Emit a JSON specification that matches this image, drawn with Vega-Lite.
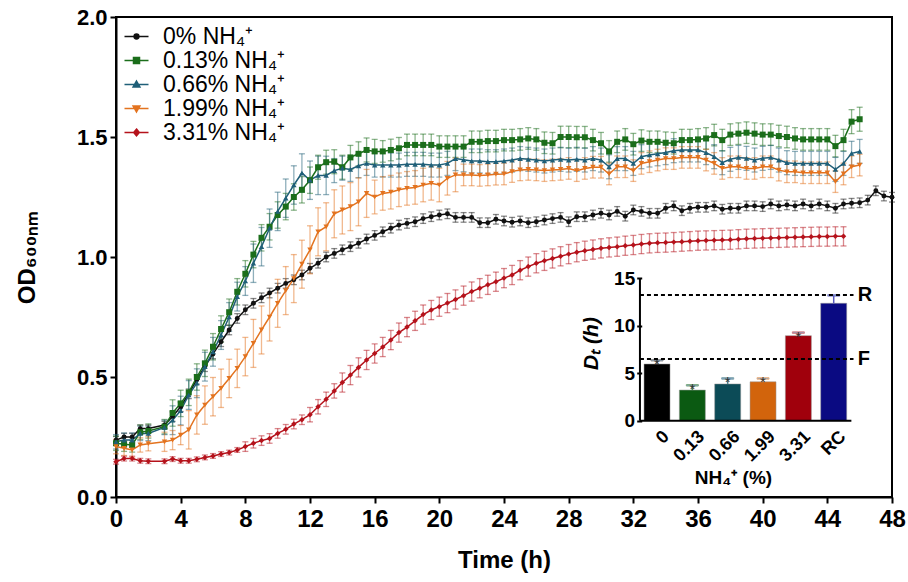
{
"$schema": "https://vega.github.io/schema/vega-lite/v6.json",
"width": 776, "height": 480,
"autosize": {"type": "none"},
"padding": {"left": 116, "top": 17, "right": 16, "bottom": 85},
"config": {"font": "Liberation Sans", "view": {"stroke": "black", "strokeWidth": 2}, "axis": {"grid": false}},
"datasets": {
"curves": [
{"t":0,"g":"0","y":0.237,"e":0.015},{"t":0.5,"g":"0","y":0.25,"e":0.015},{"t":1,"g":"0","y":0.25,"e":0.015},{"t":1.5,"g":"0","y":0.285,"e":0.015},{"t":2,"g":"0","y":0.285,"e":0.015},{"t":3,"g":"0","y":0.30,"e":0.015},{"t":3.5,"g":"0","y":0.335,"e":0.02},{"t":4,"g":"0","y":0.376,"e":0.02},{"t":4.5,"g":"0","y":0.43,"e":0.02},{"t":5,"g":"0","y":0.49,"e":0.02},{"t":5.5,"g":"0","y":0.543,"e":0.02},{"t":6,"g":"0","y":0.596,"e":0.02},{"t":6.5,"g":"0","y":0.647,"e":0.02},{"t":7,"g":"0","y":0.696,"e":0.02},{"t":7.5,"g":"0","y":0.744,"e":0.02},{"t":8,"g":"0","y":0.78,"e":0.02},{"t":8.5,"g":"0","y":0.807,"e":0.02},{"t":9,"g":"0","y":0.83,"e":0.02},{"t":9.5,"g":"0","y":0.85,"e":0.02},{"t":10,"g":"0","y":0.87,"e":0.02},{"t":10.5,"g":"0","y":0.89,"e":0.02},{"t":11,"g":"0","y":0.905,"e":0.02},{"t":11.5,"g":"0","y":0.925,"e":0.02},{"t":12,"g":"0","y":0.953,"e":0.02},{"t":12.5,"g":"0","y":0.974,"e":0.02},{"t":13,"g":"0","y":1.0,"e":0.02},{"t":13.5,"g":"0","y":1.015,"e":0.02},{"t":14,"g":"0","y":1.03,"e":0.02},{"t":14.5,"g":"0","y":1.043,"e":0.02},{"t":15,"g":"0","y":1.057,"e":0.02},{"t":15.5,"g":"0","y":1.075,"e":0.02},{"t":16,"g":"0","y":1.09,"e":0.02},{"t":16.5,"g":"0","y":1.105,"e":0.02},{"t":17,"g":"0","y":1.12,"e":0.02},{"t":17.5,"g":"0","y":1.133,"e":0.02},{"t":18,"g":"0","y":1.14,"e":0.02},{"t":18.5,"g":"0","y":1.147,"e":0.02},{"t":19,"g":"0","y":1.16,"e":0.02},{"t":19.5,"g":"0","y":1.168,"e":0.02},{"t":20,"g":"0","y":1.175,"e":0.02},{"t":20.5,"g":"0","y":1.18,"e":0.02},{"t":21,"g":"0","y":1.165,"e":0.02},{"t":21.5,"g":"0","y":1.165,"e":0.02},{"t":22,"g":"0","y":1.165,"e":0.02},{"t":22.5,"g":"0","y":1.143,"e":0.02},{"t":23,"g":"0","y":1.143,"e":0.02},{"t":23.5,"g":"0","y":1.157,"e":0.02},{"t":24,"g":"0","y":1.15,"e":0.02},{"t":24.5,"g":"0","y":1.145,"e":0.02},{"t":25,"g":"0","y":1.15,"e":0.02},{"t":25.5,"g":"0","y":1.143,"e":0.02},{"t":26,"g":"0","y":1.147,"e":0.02},{"t":26.5,"g":"0","y":1.154,"e":0.02},{"t":27,"g":"0","y":1.16,"e":0.02},{"t":27.5,"g":"0","y":1.165,"e":0.02},{"t":28,"g":"0","y":1.147,"e":0.02},{"t":28.5,"g":"0","y":1.168,"e":0.02},{"t":29,"g":"0","y":1.168,"e":0.02},{"t":29.5,"g":"0","y":1.175,"e":0.02},{"t":30,"g":"0","y":1.182,"e":0.02},{"t":30.5,"g":"0","y":1.175,"e":0.02},{"t":31,"g":"0","y":1.19,"e":0.02},{"t":31.5,"g":"0","y":1.17,"e":0.02},{"t":32,"g":"0","y":1.196,"e":0.02},{"t":32.5,"g":"0","y":1.19,"e":0.02},{"t":33,"g":"0","y":1.182,"e":0.02},{"t":33.5,"g":"0","y":1.182,"e":0.02},{"t":34,"g":"0","y":1.203,"e":0.02},{"t":34.5,"g":"0","y":1.213,"e":0.02},{"t":35,"g":"0","y":1.193,"e":0.02},{"t":35.5,"g":"0","y":1.203,"e":0.02},{"t":36,"g":"0","y":1.207,"e":0.02},{"t":36.5,"g":"0","y":1.207,"e":0.02},{"t":37,"g":"0","y":1.213,"e":0.02},{"t":37.5,"g":"0","y":1.199,"e":0.02},{"t":38,"g":"0","y":1.203,"e":0.02},{"t":38.5,"g":"0","y":1.203,"e":0.02},{"t":39,"g":"0","y":1.213,"e":0.02},{"t":39.5,"g":"0","y":1.213,"e":0.02},{"t":40,"g":"0","y":1.21,"e":0.02},{"t":40.5,"g":"0","y":1.221,"e":0.02},{"t":41,"g":"0","y":1.213,"e":0.02},{"t":41.5,"g":"0","y":1.217,"e":0.02},{"t":42,"g":"0","y":1.213,"e":0.02},{"t":42.5,"g":"0","y":1.221,"e":0.02},{"t":43,"g":"0","y":1.213,"e":0.02},{"t":43.5,"g":"0","y":1.221,"e":0.02},{"t":44,"g":"0","y":1.213,"e":0.02},{"t":44.5,"g":"0","y":1.203,"e":0.02},{"t":45,"g":"0","y":1.221,"e":0.02},{"t":45.5,"g":"0","y":1.224,"e":0.02},{"t":46,"g":"0","y":1.226,"e":0.02},{"t":46.5,"g":"0","y":1.237,"e":0.02},{"t":47,"g":"0","y":1.276,"e":0.02},{"t":47.5,"g":"0","y":1.254,"e":0.02},{"t":48,"g":"0","y":1.249,"e":0.02},
{"t":0,"g":"0.13","y":0.224,"e":0.03},{"t":0.5,"g":"0.13","y":0.22,"e":0.03},{"t":1,"g":"0.13","y":0.217,"e":0.03},{"t":1.5,"g":"0.13","y":0.27,"e":0.03},{"t":2,"g":"0.13","y":0.275,"e":0.03},{"t":3,"g":"0.13","y":0.293,"e":0.03},{"t":3.5,"g":"0.13","y":0.35,"e":0.055},{"t":4,"g":"0.13","y":0.39,"e":0.055},{"t":4.5,"g":"0.13","y":0.436,"e":0.055},{"t":5,"g":"0.13","y":0.50,"e":0.055},{"t":5.5,"g":"0.13","y":0.557,"e":0.055},{"t":6,"g":"0.13","y":0.626,"e":0.055},{"t":6.5,"g":"0.13","y":0.70,"e":0.055},{"t":7,"g":"0.13","y":0.77,"e":0.055},{"t":7.5,"g":"0.13","y":0.855,"e":0.055},{"t":8,"g":"0.13","y":0.93,"e":0.055},{"t":8.5,"g":"0.13","y":1.01,"e":0.055},{"t":9,"g":"0.13","y":1.08,"e":0.055},{"t":9.5,"g":"0.13","y":1.126,"e":0.055},{"t":10,"g":"0.13","y":1.175,"e":0.055},{"t":10.5,"g":"0.13","y":1.21,"e":0.055},{"t":11,"g":"0.13","y":1.25,"e":0.055},{"t":11.5,"g":"0.13","y":1.28,"e":0.055},{"t":12,"g":"0.13","y":1.32,"e":0.055},{"t":12.5,"g":"0.13","y":1.374,"e":0.05},{"t":13,"g":"0.13","y":1.395,"e":0.05},{"t":13.5,"g":"0.13","y":1.397,"e":0.05},{"t":14,"g":"0.13","y":1.374,"e":0.05},{"t":14.5,"g":"0.13","y":1.415,"e":0.05},{"t":15,"g":"0.13","y":1.43,"e":0.05},{"t":15.5,"g":"0.13","y":1.446,"e":0.05},{"t":16,"g":"0.13","y":1.44,"e":0.05},{"t":16.5,"g":"0.13","y":1.44,"e":0.045},{"t":17,"g":"0.13","y":1.446,"e":0.045},{"t":17.5,"g":"0.13","y":1.453,"e":0.045},{"t":18,"g":"0.13","y":1.467,"e":0.045},{"t":18.5,"g":"0.13","y":1.467,"e":0.045},{"t":19,"g":"0.13","y":1.467,"e":0.045},{"t":19.5,"g":"0.13","y":1.467,"e":0.045},{"t":20,"g":"0.13","y":1.46,"e":0.045},{"t":20.5,"g":"0.13","y":1.46,"e":0.045},{"t":21,"g":"0.13","y":1.46,"e":0.045},{"t":21.5,"g":"0.13","y":1.46,"e":0.045},{"t":22,"g":"0.13","y":1.48,"e":0.045},{"t":22.5,"g":"0.13","y":1.48,"e":0.045},{"t":23,"g":"0.13","y":1.483,"e":0.045},{"t":23.5,"g":"0.13","y":1.483,"e":0.045},{"t":24,"g":"0.13","y":1.487,"e":0.045},{"t":24.5,"g":"0.13","y":1.487,"e":0.045},{"t":25,"g":"0.13","y":1.49,"e":0.045},{"t":25.5,"g":"0.13","y":1.494,"e":0.045},{"t":26,"g":"0.13","y":1.49,"e":0.045},{"t":26.5,"g":"0.13","y":1.476,"e":0.045},{"t":27,"g":"0.13","y":1.474,"e":0.045},{"t":27.5,"g":"0.13","y":1.5,"e":0.045},{"t":28,"g":"0.13","y":1.5,"e":0.045},{"t":28.5,"g":"0.13","y":1.499,"e":0.045},{"t":29,"g":"0.13","y":1.499,"e":0.045},{"t":29.5,"g":"0.13","y":1.487,"e":0.045},{"t":30,"g":"0.13","y":1.474,"e":0.045},{"t":30.5,"g":"0.13","y":1.44,"e":0.045},{"t":31,"g":"0.13","y":1.48,"e":0.045},{"t":31.5,"g":"0.13","y":1.49,"e":0.045},{"t":32,"g":"0.13","y":1.47,"e":0.045},{"t":32.5,"g":"0.13","y":1.485,"e":0.045},{"t":33,"g":"0.13","y":1.48,"e":0.045},{"t":33.5,"g":"0.13","y":1.48,"e":0.045},{"t":34,"g":"0.13","y":1.476,"e":0.045},{"t":34.5,"g":"0.13","y":1.474,"e":0.045},{"t":35,"g":"0.13","y":1.487,"e":0.045},{"t":35.5,"g":"0.13","y":1.487,"e":0.045},{"t":36,"g":"0.13","y":1.49,"e":0.045},{"t":36.5,"g":"0.13","y":1.494,"e":0.045},{"t":37,"g":"0.13","y":1.508,"e":0.045},{"t":37.5,"g":"0.13","y":1.487,"e":0.045},{"t":38,"g":"0.13","y":1.51,"e":0.045},{"t":38.5,"g":"0.13","y":1.514,"e":0.045},{"t":39,"g":"0.13","y":1.518,"e":0.045},{"t":39.5,"g":"0.13","y":1.514,"e":0.045},{"t":40,"g":"0.13","y":1.51,"e":0.045},{"t":40.5,"g":"0.13","y":1.51,"e":0.045},{"t":41,"g":"0.13","y":1.504,"e":0.045},{"t":41.5,"g":"0.13","y":1.5,"e":0.045},{"t":42,"g":"0.13","y":1.494,"e":0.045},{"t":42.5,"g":"0.13","y":1.49,"e":0.045},{"t":43,"g":"0.13","y":1.49,"e":0.045},{"t":43.5,"g":"0.13","y":1.49,"e":0.045},{"t":44,"g":"0.13","y":1.49,"e":0.045},{"t":44.5,"g":"0.13","y":1.462,"e":0.045},{"t":45,"g":"0.13","y":1.487,"e":0.045},{"t":45.5,"g":"0.13","y":1.564,"e":0.05},{"t":46,"g":"0.13","y":1.574,"e":0.05},
{"t":0,"g":"0.66","y":0.23,"e":0.03},{"t":0.5,"g":"0.66","y":0.237,"e":0.03},{"t":1,"g":"0.66","y":0.237,"e":0.03},{"t":1.5,"g":"0.66","y":0.265,"e":0.03},{"t":2,"g":"0.66","y":0.265,"e":0.03},{"t":3,"g":"0.66","y":0.29,"e":0.03},{"t":3.5,"g":"0.66","y":0.32,"e":0.06},{"t":4,"g":"0.66","y":0.36,"e":0.06},{"t":4.5,"g":"0.66","y":0.425,"e":0.06},{"t":5,"g":"0.66","y":0.474,"e":0.06},{"t":5.5,"g":"0.66","y":0.543,"e":0.06},{"t":6,"g":"0.66","y":0.605,"e":0.06},{"t":6.5,"g":"0.66","y":0.675,"e":0.06},{"t":7,"g":"0.66","y":0.75,"e":0.06},{"t":7.5,"g":"0.66","y":0.835,"e":0.06},{"t":8,"g":"0.66","y":0.90,"e":0.06},{"t":8.5,"g":"0.66","y":0.974,"e":0.08},{"t":9,"g":"0.66","y":1.043,"e":0.08},{"t":9.5,"g":"0.66","y":1.12,"e":0.08},{"t":10,"g":"0.66","y":1.19,"e":0.08},{"t":10.5,"g":"0.66","y":1.245,"e":0.08},{"t":11,"g":"0.66","y":1.30,"e":0.08},{"t":11.5,"g":"0.66","y":1.35,"e":0.08},{"t":12,"g":"0.66","y":1.32,"e":0.08},{"t":12.5,"g":"0.66","y":1.34,"e":0.08},{"t":13,"g":"0.66","y":1.34,"e":0.08},{"t":13.5,"g":"0.66","y":1.36,"e":0.05},{"t":14,"g":"0.66","y":1.37,"e":0.05},{"t":14.5,"g":"0.66","y":1.365,"e":0.05},{"t":15,"g":"0.66","y":1.38,"e":0.05},{"t":15.5,"g":"0.66","y":1.39,"e":0.05},{"t":16,"g":"0.66","y":1.383,"e":0.05},{"t":16.5,"g":"0.66","y":1.383,"e":0.05},{"t":17,"g":"0.66","y":1.383,"e":0.05},{"t":17.5,"g":"0.66","y":1.383,"e":0.05},{"t":18,"g":"0.66","y":1.386,"e":0.05},{"t":18.5,"g":"0.66","y":1.386,"e":0.05},{"t":19,"g":"0.66","y":1.386,"e":0.05},{"t":19.5,"g":"0.66","y":1.383,"e":0.05},{"t":20,"g":"0.66","y":1.383,"e":0.05},{"t":20.5,"g":"0.66","y":1.39,"e":0.05},{"t":21,"g":"0.66","y":1.41,"e":0.05},{"t":21.5,"g":"0.66","y":1.405,"e":0.05},{"t":22,"g":"0.66","y":1.40,"e":0.05},{"t":22.5,"g":"0.66","y":1.40,"e":0.05},{"t":23,"g":"0.66","y":1.397,"e":0.05},{"t":23.5,"g":"0.66","y":1.397,"e":0.05},{"t":24,"g":"0.66","y":1.40,"e":0.05},{"t":24.5,"g":"0.66","y":1.404,"e":0.05},{"t":25,"g":"0.66","y":1.41,"e":0.05},{"t":25.5,"g":"0.66","y":1.407,"e":0.05},{"t":26,"g":"0.66","y":1.404,"e":0.05},{"t":26.5,"g":"0.66","y":1.40,"e":0.05},{"t":27,"g":"0.66","y":1.404,"e":0.05},{"t":27.5,"g":"0.66","y":1.407,"e":0.05},{"t":28,"g":"0.66","y":1.404,"e":0.05},{"t":28.5,"g":"0.66","y":1.407,"e":0.05},{"t":29,"g":"0.66","y":1.404,"e":0.05},{"t":29.5,"g":"0.66","y":1.41,"e":0.05},{"t":30,"g":"0.66","y":1.404,"e":0.05},{"t":30.5,"g":"0.66","y":1.376,"e":0.05},{"t":31,"g":"0.66","y":1.41,"e":0.05},{"t":31.5,"g":"0.66","y":1.41,"e":0.05},{"t":32,"g":"0.66","y":1.39,"e":0.05},{"t":32.5,"g":"0.66","y":1.418,"e":0.05},{"t":33,"g":"0.66","y":1.425,"e":0.05},{"t":33.5,"g":"0.66","y":1.43,"e":0.05},{"t":34,"g":"0.66","y":1.435,"e":0.05},{"t":34.5,"g":"0.66","y":1.443,"e":0.05},{"t":35,"g":"0.66","y":1.446,"e":0.05},{"t":35.5,"g":"0.66","y":1.446,"e":0.05},{"t":36,"g":"0.66","y":1.446,"e":0.05},{"t":36.5,"g":"0.66","y":1.435,"e":0.05},{"t":37,"g":"0.66","y":1.418,"e":0.05},{"t":37.5,"g":"0.66","y":1.393,"e":0.05},{"t":38,"g":"0.66","y":1.407,"e":0.05},{"t":38.5,"g":"0.66","y":1.415,"e":0.05},{"t":39,"g":"0.66","y":1.411,"e":0.05},{"t":39.5,"g":"0.66","y":1.404,"e":0.05},{"t":40,"g":"0.66","y":1.411,"e":0.05},{"t":40.5,"g":"0.66","y":1.415,"e":0.05},{"t":41,"g":"0.66","y":1.404,"e":0.05},{"t":41.5,"g":"0.66","y":1.393,"e":0.05},{"t":42,"g":"0.66","y":1.39,"e":0.05},{"t":42.5,"g":"0.66","y":1.39,"e":0.05},{"t":43,"g":"0.66","y":1.39,"e":0.05},{"t":43.5,"g":"0.66","y":1.39,"e":0.05},{"t":44,"g":"0.66","y":1.39,"e":0.05},{"t":44.5,"g":"0.66","y":1.365,"e":0.05},{"t":45,"g":"0.66","y":1.39,"e":0.05},{"t":45.5,"g":"0.66","y":1.432,"e":0.05},{"t":46,"g":"0.66","y":1.44,"e":0.05},
{"t":0,"g":"1.99","y":0.21,"e":0.03},{"t":0.5,"g":"1.99","y":0.203,"e":0.03},{"t":1,"g":"1.99","y":0.196,"e":0.03},{"t":1.5,"g":"1.99","y":0.217,"e":0.03},{"t":2,"g":"1.99","y":0.222,"e":0.03},{"t":3,"g":"1.99","y":0.23,"e":0.04},{"t":3.5,"g":"1.99","y":0.237,"e":0.04},{"t":4,"g":"1.99","y":0.258,"e":0.04},{"t":4.5,"g":"1.99","y":0.28,"e":0.08},{"t":5,"g":"1.99","y":0.342,"e":0.08},{"t":5.5,"g":"1.99","y":0.383,"e":0.08},{"t":6,"g":"1.99","y":0.418,"e":0.08},{"t":6.5,"g":"1.99","y":0.453,"e":0.08},{"t":7,"g":"1.99","y":0.494,"e":0.08},{"t":7.5,"g":"1.99","y":0.536,"e":0.08},{"t":8,"g":"1.99","y":0.585,"e":0.08},{"t":8.5,"g":"1.99","y":0.64,"e":0.1},{"t":9,"g":"1.99","y":0.696,"e":0.1},{"t":9.5,"g":"1.99","y":0.75,"e":0.1},{"t":10,"g":"1.99","y":0.807,"e":0.1},{"t":10.5,"g":"1.99","y":0.86,"e":0.1},{"t":11,"g":"1.99","y":0.91,"e":0.1},{"t":11.5,"g":"1.99","y":0.97,"e":0.1},{"t":12,"g":"1.99","y":1.03,"e":0.1},{"t":12.5,"g":"1.99","y":1.105,"e":0.1},{"t":13,"g":"1.99","y":1.126,"e":0.1},{"t":13.5,"g":"1.99","y":1.18,"e":0.1},{"t":14,"g":"1.99","y":1.196,"e":0.1},{"t":14.5,"g":"1.99","y":1.21,"e":0.1},{"t":15,"g":"1.99","y":1.23,"e":0.1},{"t":15.5,"g":"1.99","y":1.265,"e":0.1},{"t":16,"g":"1.99","y":1.25,"e":0.07},{"t":16.5,"g":"1.99","y":1.265,"e":0.07},{"t":17,"g":"1.99","y":1.27,"e":0.07},{"t":17.5,"g":"1.99","y":1.28,"e":0.07},{"t":18,"g":"1.99","y":1.286,"e":0.07},{"t":18.5,"g":"1.99","y":1.29,"e":0.07},{"t":19,"g":"1.99","y":1.30,"e":0.07},{"t":19.5,"g":"1.99","y":1.307,"e":0.07},{"t":20,"g":"1.99","y":1.30,"e":0.07},{"t":20.5,"g":"1.99","y":1.328,"e":0.07},{"t":21,"g":"1.99","y":1.342,"e":0.07},{"t":21.5,"g":"1.99","y":1.342,"e":0.045},{"t":22,"g":"1.99","y":1.342,"e":0.045},{"t":22.5,"g":"1.99","y":1.34,"e":0.045},{"t":23,"g":"1.99","y":1.342,"e":0.045},{"t":23.5,"g":"1.99","y":1.345,"e":0.045},{"t":24,"g":"1.99","y":1.346,"e":0.045},{"t":24.5,"g":"1.99","y":1.356,"e":0.045},{"t":25,"g":"1.99","y":1.363,"e":0.045},{"t":25.5,"g":"1.99","y":1.365,"e":0.045},{"t":26,"g":"1.99","y":1.363,"e":0.045},{"t":26.5,"g":"1.99","y":1.36,"e":0.045},{"t":27,"g":"1.99","y":1.363,"e":0.045},{"t":27.5,"g":"1.99","y":1.365,"e":0.045},{"t":28,"g":"1.99","y":1.369,"e":0.045},{"t":28.5,"g":"1.99","y":1.36,"e":0.045},{"t":29,"g":"1.99","y":1.369,"e":0.045},{"t":29.5,"g":"1.99","y":1.374,"e":0.045},{"t":30,"g":"1.99","y":1.374,"e":0.045},{"t":30.5,"g":"1.99","y":1.346,"e":0.045},{"t":31,"g":"1.99","y":1.376,"e":0.045},{"t":31.5,"g":"1.99","y":1.376,"e":0.045},{"t":32,"g":"1.99","y":1.36,"e":0.045},{"t":32.5,"g":"1.99","y":1.39,"e":0.045},{"t":33,"g":"1.99","y":1.397,"e":0.045},{"t":33.5,"g":"1.99","y":1.404,"e":0.045},{"t":34,"g":"1.99","y":1.41,"e":0.045},{"t":34.5,"g":"1.99","y":1.41,"e":0.045},{"t":35,"g":"1.99","y":1.415,"e":0.045},{"t":35.5,"g":"1.99","y":1.415,"e":0.045},{"t":36,"g":"1.99","y":1.415,"e":0.045},{"t":36.5,"g":"1.99","y":1.404,"e":0.045},{"t":37,"g":"1.99","y":1.39,"e":0.045},{"t":37.5,"g":"1.99","y":1.369,"e":0.045},{"t":38,"g":"1.99","y":1.376,"e":0.045},{"t":38.5,"g":"1.99","y":1.376,"e":0.045},{"t":39,"g":"1.99","y":1.369,"e":0.045},{"t":39.5,"g":"1.99","y":1.369,"e":0.045},{"t":40,"g":"1.99","y":1.376,"e":0.045},{"t":40.5,"g":"1.99","y":1.376,"e":0.045},{"t":41,"g":"1.99","y":1.362,"e":0.045},{"t":41.5,"g":"1.99","y":1.355,"e":0.045},{"t":42,"g":"1.99","y":1.355,"e":0.045},{"t":42.5,"g":"1.99","y":1.351,"e":0.045},{"t":43,"g":"1.99","y":1.351,"e":0.045},{"t":43.5,"g":"1.99","y":1.351,"e":0.045},{"t":44,"g":"1.99","y":1.351,"e":0.045},{"t":44.5,"g":"1.99","y":1.314,"e":0.045},{"t":45,"g":"1.99","y":1.346,"e":0.045},{"t":45.5,"g":"1.99","y":1.376,"e":0.045},{"t":46,"g":"1.99","y":1.383,"e":0.045},
{"t":0,"g":"3.31","y":0.147,"e":0.01},{"t":0.5,"g":"3.31","y":0.16,"e":0.01},{"t":1,"g":"3.31","y":0.16,"e":0.01},{"t":1.5,"g":"3.31","y":0.151,"e":0.01},{"t":2,"g":"3.31","y":0.149,"e":0.01},{"t":3,"g":"3.31","y":0.149,"e":0.01},{"t":3.5,"g":"3.31","y":0.158,"e":0.01},{"t":4,"g":"3.31","y":0.151,"e":0.01},{"t":4.5,"g":"3.31","y":0.151,"e":0.01},{"t":5,"g":"3.31","y":0.157,"e":0.01},{"t":5.5,"g":"3.31","y":0.165,"e":0.01},{"t":6,"g":"3.31","y":0.171,"e":0.01},{"t":6.5,"g":"3.31","y":0.179,"e":0.01},{"t":7,"g":"3.31","y":0.185,"e":0.01},{"t":7.5,"g":"3.31","y":0.196,"e":0.01},{"t":8,"g":"3.31","y":0.21,"e":0.02},{"t":8.5,"g":"3.31","y":0.224,"e":0.02},{"t":9,"g":"3.31","y":0.235,"e":0.02},{"t":9.5,"g":"3.31","y":0.244,"e":0.02},{"t":10,"g":"3.31","y":0.265,"e":0.02},{"t":10.5,"g":"3.31","y":0.282,"e":0.02},{"t":11,"g":"3.31","y":0.304,"e":0.02},{"t":11.5,"g":"3.31","y":0.322,"e":0.02},{"t":12,"g":"3.31","y":0.343,"e":0.03},{"t":12.5,"g":"3.31","y":0.376,"e":0.03},{"t":13,"g":"3.31","y":0.407,"e":0.03},{"t":13.5,"g":"3.31","y":0.442,"e":0.03},{"t":14,"g":"3.31","y":0.477,"e":0.04},{"t":14.5,"g":"3.31","y":0.508,"e":0.04},{"t":15,"g":"3.31","y":0.54,"e":0.04},{"t":15.5,"g":"3.31","y":0.571,"e":0.04},{"t":16,"g":"3.31","y":0.598,"e":0.04},{"t":16.5,"g":"3.31","y":0.625,"e":0.04},{"t":17,"g":"3.31","y":0.654,"e":0.04},{"t":17.5,"g":"3.31","y":0.685,"e":0.04},{"t":18,"g":"3.31","y":0.708,"e":0.04},{"t":18.5,"g":"3.31","y":0.734,"e":0.04},{"t":19,"g":"3.31","y":0.76,"e":0.04},{"t":19.5,"g":"3.31","y":0.779,"e":0.04},{"t":20,"g":"3.31","y":0.793,"e":0.04},{"t":20.5,"g":"3.31","y":0.808,"e":0.04},{"t":21,"g":"3.31","y":0.823,"e":0.04},{"t":21.5,"g":"3.31","y":0.839,"e":0.04},{"t":22,"g":"3.31","y":0.856,"e":0.04},{"t":22.5,"g":"3.31","y":0.87,"e":0.04},{"t":23,"g":"3.31","y":0.884,"e":0.04},{"t":23.5,"g":"3.31","y":0.897,"e":0.04},{"t":24,"g":"3.31","y":0.912,"e":0.04},{"t":24.5,"g":"3.31","y":0.925,"e":0.04},{"t":25,"g":"3.31","y":0.945,"e":0.04},{"t":25.5,"g":"3.31","y":0.96,"e":0.04},{"t":26,"g":"3.31","y":0.974,"e":0.04},{"t":26.5,"g":"3.31","y":0.984,"e":0.04},{"t":27,"g":"3.31","y":0.994,"e":0.04},{"t":27.5,"g":"3.31","y":1.003,"e":0.04},{"t":28,"g":"3.31","y":1.012,"e":0.04},{"t":28.5,"g":"3.31","y":1.02,"e":0.04},{"t":29,"g":"3.31","y":1.026,"e":0.04},{"t":29.5,"g":"3.31","y":1.031,"e":0.04},{"t":30,"g":"3.31","y":1.036,"e":0.04},{"t":30.5,"g":"3.31","y":1.04,"e":0.04},{"t":31,"g":"3.31","y":1.043,"e":0.04},{"t":31.5,"g":"3.31","y":1.047,"e":0.04},{"t":32,"g":"3.31","y":1.05,"e":0.04},{"t":32.5,"g":"3.31","y":1.054,"e":0.04},{"t":33,"g":"3.31","y":1.057,"e":0.04},{"t":33.5,"g":"3.31","y":1.059,"e":0.04},{"t":34,"g":"3.31","y":1.06,"e":0.04},{"t":34.5,"g":"3.31","y":1.062,"e":0.04},{"t":35,"g":"3.31","y":1.064,"e":0.04},{"t":35.5,"g":"3.31","y":1.066,"e":0.04},{"t":36,"g":"3.31","y":1.068,"e":0.04},{"t":36.5,"g":"3.31","y":1.069,"e":0.04},{"t":37,"g":"3.31","y":1.07,"e":0.04},{"t":37.5,"g":"3.31","y":1.071,"e":0.04},{"t":38,"g":"3.31","y":1.072,"e":0.04},{"t":38.5,"g":"3.31","y":1.074,"e":0.04},{"t":39,"g":"3.31","y":1.076,"e":0.04},{"t":39.5,"g":"3.31","y":1.077,"e":0.04},{"t":40,"g":"3.31","y":1.078,"e":0.04},{"t":40.5,"g":"3.31","y":1.079,"e":0.04},{"t":41,"g":"3.31","y":1.08,"e":0.04},{"t":41.5,"g":"3.31","y":1.081,"e":0.04},{"t":42,"g":"3.31","y":1.082,"e":0.04},{"t":42.5,"g":"3.31","y":1.083,"e":0.04},{"t":43,"g":"3.31","y":1.084,"e":0.04},{"t":43.5,"g":"3.31","y":1.085,"e":0.04},{"t":44,"g":"3.31","y":1.085,"e":0.04},{"t":44.5,"g":"3.31","y":1.086,"e":0.04},{"t":45,"g":"3.31","y":1.086,"e":0.04}
],
"bars": [
{"k":1,"c":"0","v":5.97,"hi":6.37,"star":"*"},
{"k":2,"c":"0.13","v":3.23,"hi":3.73,"star":"*"},
{"k":3,"c":"0.66","v":3.87,"hi":4.45,"star":"*"},
{"k":4,"c":"1.99","v":4.1,"hi":4.45,"star":"*"},
{"k":5,"c":"3.31","v":8.96,"hi":9.28,"star":"*"},
{"k":6,"c":"RC","v":12.37,"hi":13.2,"star":""}
],
"refs": [{"name":"R","v":13.24},{"name":"F","v":6.5}]
},
"layer": [
{
"data": {"name": "curves"},
"encoding": {
"x": {"field": "t", "type": "quantitative", "scale": {"domain": [0, 48], "nice": false, "zero": false},
 "axis": {"values": [0,4,8,12,16,20,24,28,32,36,40,44,48], "labelFontWeight": "bold", "labelFontSize": 24, "labelColor": "black", "labelFlush": false, "labelOverlap": false, "labelPadding": 4, "tickColor": "black", "tickWidth": 2, "tickSize": 6, "domainColor": "black", "domainWidth": 2,
  "title": "Time (h)", "titleFontSize": 24, "titleFontWeight": "bold", "titleColor": "black", "titleY": 63, "titleBaseline": "middle"}},
"y": {"field": "y", "type": "quantitative", "scale": {"domain": [0, 2], "nice": false, "zero": false},
 "axis": {"values": [0,0.5,1,1.5,2], "format": ".1f", "labelFontWeight": "bold", "labelFontSize": 22, "labelColor": "black", "labelPadding": 3, "tickColor": "black", "tickWidth": 2, "tickSize": 6, "domainColor": "black", "domainWidth": 2,
  "title": "OD₆₀₀ₙₘ", "titleFontSize": 24, "titleFontWeight": "bold", "titleColor": "black", "titleX": -89, "titleY": 240, "titleAngle": -90, "titleAlign": "center", "titleBaseline": "middle"}},
"color": {"field": "g", "type": "nominal", "scale": {"domain": ["0","0.13","0.66","1.99","3.31"], "range": ["#111111","#1b6e1b","#1f5f78","#e3731f","#b5121b"]},
 "legend": {"orient": "none", "legendX": 9, "legendY": 8, "title": null, "padding": 0, "labelFontSize": 23, "labelColor": "black", "labelOffset": 15, "rowPadding": 0, "symbolSize": 64,
  "labelExpr": "datum.label + '% NH₄⁺'",
  "encode": {"symbols": {"update": {
   "shape": {"signal": "datum.value === '0' ? 'M-3,0L3,0M0.6,0A0.6,0.6,0,1,1,-0.6,0A0.6,0.6,0,1,1,0.6,0Z' : datum.value === '0.13' ? 'M-3,0L3,0M-0.75,-0.75L0.75,-0.75L0.75,0.75L-0.75,0.75Z' : datum.value === '0.66' ? 'M-3,0L3,0M0,-0.85L0.85,0.6L-0.85,0.6Z' : datum.value === '1.99' ? 'M-3,0L3,0M0,0.85L0.85,-0.6L-0.85,-0.6Z' : 'M-3,0L3,0M0,-0.85L0.7,0L0,0.85L-0.7,0Z'"},
   "stroke": {"signal": "datum.value === '0' ? '#111111' : datum.value === '0.13' ? '#1b6e1b' : datum.value === '0.66' ? '#1f5f78' : datum.value === '1.99' ? '#e3731f' : '#b5121b'"},
   "fill": {"signal": "datum.value === '0' ? '#111111' : datum.value === '0.13' ? '#1b6e1b' : datum.value === '0.66' ? '#1f5f78' : datum.value === '1.99' ? '#e3731f' : '#b5121b'"},
   "strokeWidth": {"value": 1.5},
   "size": {"value": 64},
   "opacity": {"value": 1}}}}}}
},
"layer": [
{"mark": {"type": "errorbar", "ticks": {"size": 6, "opacity": 0.5}, "rule": {"opacity": 0.5}, "thickness": 1.3}, "encoding": {"yError": {"field": "e"}}},
{"mark": {"type": "line", "strokeWidth": 1.5}},
{"transform": [{"filter": "datum.g === '0'"}], "mark": {"type": "point", "filled": true, "opacity": 1, "shape": "circle", "size": 24}},
{"transform": [{"filter": "datum.g === '0.13'"}], "mark": {"type": "point", "filled": true, "opacity": 1, "shape": "square", "size": 36}},
{"transform": [{"filter": "datum.g === '0.66'"}], "mark": {"type": "point", "filled": true, "opacity": 1, "shape": "triangle-up", "size": 30}},
{"transform": [{"filter": "datum.g === '1.99'"}], "mark": {"type": "point", "filled": true, "opacity": 1, "shape": "triangle-down", "size": 30}},
{"transform": [{"filter": "datum.g === '3.31'"}], "mark": {"type": "point", "filled": true, "opacity": 1, "shape": "diamond", "size": 30}},
{"data": {"values": [{"label": "10% glucose"}]}, "mark": {"type": "text", "fontSize": 23, "fontWeight": "bold", "align": "center", "baseline": "middle"},
 "encoding": {"x": {"datum": 42}, "y": {"datum": 1.871}, "color": {"value": "black"}, "text": {"field": "label"}}}
]
},
{
"layer": [
{"data": {"name": "bars"}, "mark": {"type": "bar", "size": 26, "stroke": "#999999", "strokeWidth": 0.5},
 "encoding": {
  "x": {"field": "k", "type": "quantitative", "scale": {"domain": [-14.168, 7.508], "nice": false, "zero": false},
   "axis": {"orient": "bottom", "offset": -76.3, "values": [1,2,3,4,5,6], "labelExpr": "['','0','0.13','0.66','1.99','3.31','RC'][datum.value]", "labelAngle": -45, "labelAlign": "right", "labelBaseline": "middle", "labelFontSize": 18, "labelFontWeight": "bold", "labelColor": "black", "labelPadding": 13, "labelOffset": 9, "ticks": false, "domain": false, "grid": false, "labelFlush": false, "labelOverlap": false,
    "title": "NH₄⁺ (%)", "titleFontSize": 19, "titleFontWeight": "bold", "titleColor": "black", "titleX": 617, "titleY": 57, "titleAlign": "center", "titleBaseline": "middle"}},
  "y": {"field": "v", "type": "quantitative", "scale": {"domain": [-8.04, 42.53], "nice": false, "zero": false},
   "axis": {"orient": "left", "offset": -525.7, "values": [0,5,10,15], "labelFontSize": 19, "labelFontWeight": "bold", "labelColor": "black", "labelPadding": 2, "tickColor": "black", "tickWidth": 2, "tickSize": 5, "domain": false, "grid": false,
    "title": "Dₜ (h)", "titleFontSize": 21, "titleFontWeight": "bold", "titleFontStyle": "italic", "titleColor": "black", "titleX": -50, "titleY": 326, "titleAngle": -90, "titleAlign": "center", "titleBaseline": "middle"}},
  "fill": {"field": "c", "type": "nominal", "scale": {"domain": ["0","0.13","0.66","1.99","3.31","RC"], "range": ["#000000","#0b5a12","#0c4b57","#d2640c","#a0000c","#0a0a82"]}, "legend": null}
 }},
{"data": {"name": "bars"}, "mark": {"type": "rule", "strokeWidth": 1.5},
 "encoding": {"x": {"field": "k", "type": "quantitative"}, "y": {"field": "v", "type": "quantitative"}, "y2": {"field": "hi"},
  "stroke": {"field": "c", "type": "nominal", "scale": {"domain": ["0","0.13","0.66","1.99","3.31","RC"], "range": ["#666666","#4a8a50","#4a7f8a","#e8924a","#c84a52","#5a5ac0"]}, "legend": null}}},
{"data": {"name": "bars"}, "mark": {"type": "tick", "orient": "horizontal", "size": 12, "thickness": 1.5},
 "encoding": {"x": {"field": "k", "type": "quantitative"}, "y": {"field": "hi", "type": "quantitative"},
  "stroke": {"field": "c", "type": "nominal", "legend": null}}},
{"data": {"name": "bars"}, "mark": {"type": "text", "fontSize": 15, "baseline": "alphabetic", "align": "center", "dy": 9, "color": "#333333"},
 "encoding": {"x": {"field": "k", "type": "quantitative"}, "y": {"field": "hi", "type": "quantitative"}, "text": {"field": "star"}}},
{"data": {"name": "refs"}, "mark": {"type": "rule", "strokeDash": [4, 3], "strokeWidth": 2, "color": "black"},
 "encoding": {"x": {"datum": 0.517}, "x2": {"datum": 6.56}, "y": {"field": "v", "type": "quantitative"}}},
{"data": {"name": "refs"}, "mark": {"type": "text", "align": "left", "baseline": "middle", "fontSize": 20, "fontWeight": "bold", "color": "black"},
 "encoding": {"x": {"datum": 6.68}, "y": {"field": "v", "type": "quantitative"}, "text": {"field": "name"}}},
{"data": {"values": [{}]}, "mark": {"type": "rule", "strokeWidth": 2, "color": "black"},
 "encoding": {"x": {"datum": 0.517}, "y": {"datum": 0}, "y2": {"datum": 15}}},
{"data": {"values": [{}]}, "mark": {"type": "rule", "strokeWidth": 2, "color": "black"},
 "encoding": {"x": {"datum": 0.517}, "x2": {"datum": 6.5}, "y": {"datum": 0}}}
]
}
],
"resolve": {"scale": {"x": "independent", "y": "independent"}, "axis": {"x": "independent", "y": "independent"}}
}
